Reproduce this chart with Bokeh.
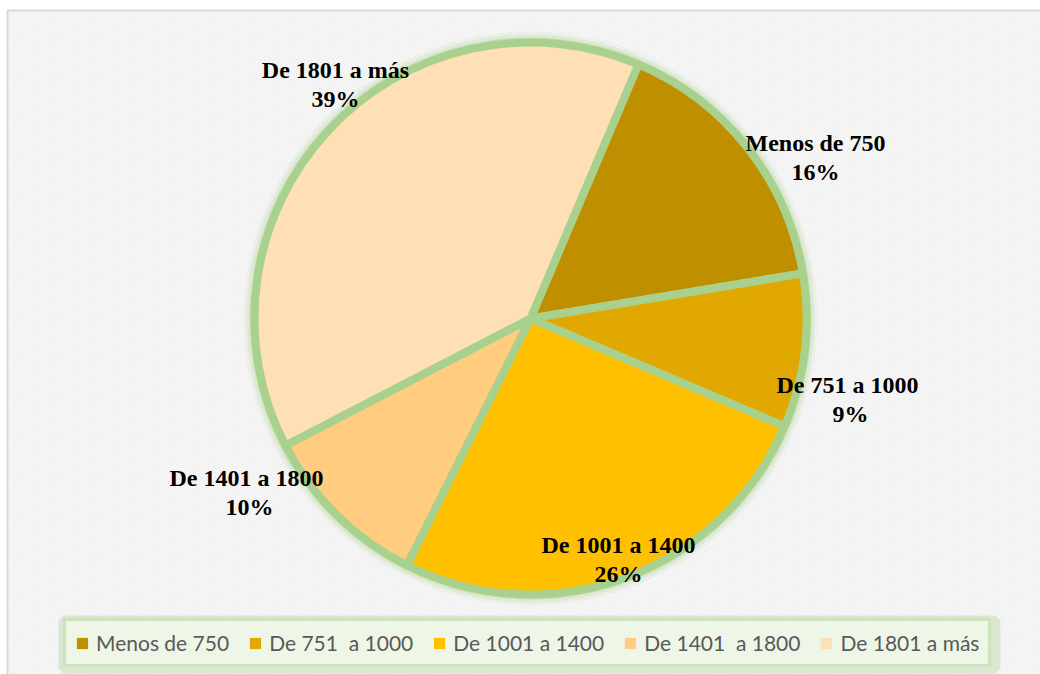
import numpy as np
from bokeh.plotting import figure
from bokeh.models import ColumnDataSource, Legend, LegendItem, Range1d
from bokeh.core.properties import value
from bokeh.embed import file_html
from bokeh.resources import INLINE

categories = ["Menos de 750", "De 751  a 1000", "De 1001 a 1400", "De 1401  a 1800", "De 1801 a más"]
values = [16, 9, 26, 10, 39]
colors = ["#BF8F00", "#E0A800", "#FFC000", "#FFCC80", "#FFE0B6"]

W, H = 1040, 674
p = figure(width=W, height=H, output_backend="svg", toolbar_location=None,
           x_range=Range1d(0, W), y_range=Range1d(0, H), min_border=0)
p.axis.visible = False
p.grid.visible = False
p.outline_line_color = None
p.background_fill_color = "white"
p.border_fill_color = "white"

# hatched chart background and border
p.quad(left=[7], right=[W + 20], bottom=[-20], top=[H - 10], fill_color="white",
       hatch_pattern="left_diagonal_line", hatch_color="#EEEEEE", hatch_scale=5, hatch_weight=1.5,
       line_color="#D9D9D9", line_width=2)

cx, cy, R = 530, 356, 276
rot = np.deg2rad(90 - 23)
frac = np.array(values, dtype=float) / sum(values)
cum = np.concatenate([[0], np.cumsum(frac)]) * 2 * np.pi
start = rot - cum[1:]
end = rot - cum[:-1]

# outer glow
for dr, a in [(11, 0.10), (8, 0.2), (5, 0.4)]:
    p.circle(x=[cx], y=[cy], radius=R + dr, fill_color="#A9D18E", fill_alpha=a, line_color=None)

src = ColumnDataSource(dict(start=start, end=end, color=colors, cat=categories))
p.wedge(x=cx, y=cy, radius=R, start_angle="start", end_angle="end", fill_color="color",
        line_color="#A9D18E", line_width=8, line_join="round", source=src)

# data labels
lab_x = [815, 850, 618, 249, 335]
lab_y = [517, 275, 115, 182, 590]
labels = [f"{c}\n{v}%" for c, v in zip(categories, values)]
p.text(x=lab_x, y=lab_y, text=labels, text_font=value("Liberation Serif"), text_font_style="bold",
       text_font_size="24px", text_color="black", text_align="center", text_baseline="middle",
       text_line_height=1.15)

# legend glow
p.rect(x=[529], y=[30], width=932, height=48, fill_color=None,
       line_color="#A9D18E", line_alpha=0.35, line_width=10)

items = []
for c, col in zip(categories, colors):
    r = p.quad(left=[-120], right=[-110], bottom=[-120], top=[-110], fill_color=col, line_color=None)
    items.append(LegendItem(label=c, renderers=[r]))

leg = Legend(items=items, orientation="horizontal", location=(63, 7),
             glyph_width=14, glyph_height=14, label_standoff=7, spacing=19, padding=9,
             label_text_font="Lato", label_text_font_size="21px", label_text_color="#595959",
             background_fill_color="#EEF6E8", background_fill_alpha=1,
             border_line_color="#A9D18E", border_line_width=3, margin=0)
p.add_layout(leg)

open("out.html", "w").write(file_html(p, INLINE))
